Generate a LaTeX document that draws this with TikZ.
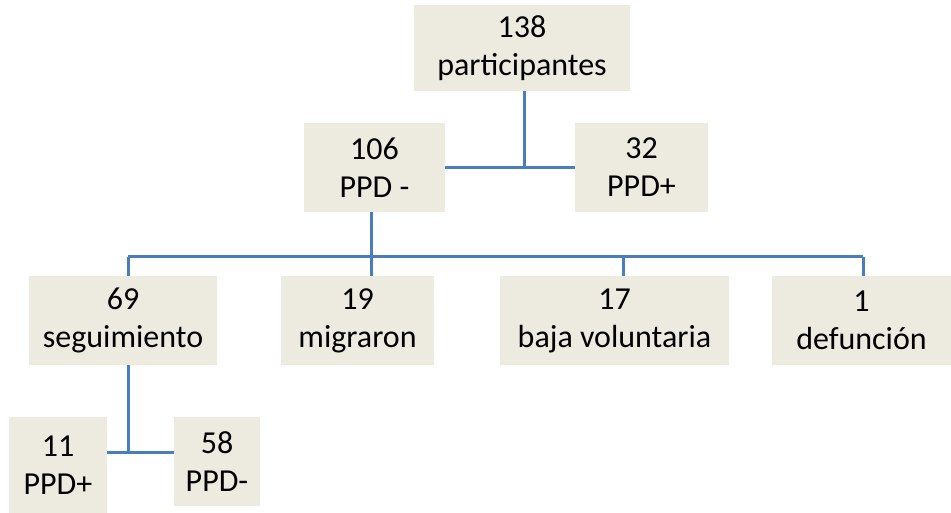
\documentclass[tikz,border=0pt]{standalone}
\usepackage{fontspec}
\setmainfont{Carlito}
\definecolor{boxfill}{HTML}{EDEBE0}
\definecolor{linkc}{HTML}{4A7EBB}
\begin{document}
\begin{tikzpicture}[x=1pt,y=-1pt,
  box/.style={fill=boxfill, draw=none, inner sep=0pt, align=center,
    font=\fontsize{32}{38}\selectfont},
  link/.style={draw=linkc, line width=3pt}]
\useasboundingbox (0,0) rectangle (951,513);
% boxes
\node[box, minimum width=216, minimum height=86] (p138) at (522,48) {138\\participantes};
\node[box, minimum width=141, minimum height=89] (n106) at (374.5,167.5) {106\\PPD -};
\node[box, minimum width=133, minimum height=89] (n32) at (641.5,167.5) {32\\PPD+};
\node[box, minimum width=188, minimum height=89] (n69) at (123,320.5) {69\\seguimiento};
\node[box, minimum width=153, minimum height=89] (n19) at (357.5,320.5) {19\\migraron};
\node[box, minimum width=229, minimum height=89] (n17) at (614.5,320.5) {17\\baja voluntaria};
\node[box, minimum width=179, minimum height=89] (n1) at (861.5,320.5) {1\\defunción};
\node[box, minimum width=98, minimum height=96] (n11) at (58,465) {11\\PPD+};
\node[box, minimum width=86, minimum height=89] (n58) at (217,461.5) {58\\PPD-};
% junction coordinates
\coordinate (j138) at (524,168);
\coordinate (d69) at (128,257);
\coordinate (d106) at (371,257);
\coordinate (d17) at (623,257);
\coordinate (d1) at (863,257);
\coordinate (j69) at (128,452);
% connectors
\draw[link] (j138 |- p138.south) -- (j138);
\draw[link] (n106.east |- j138) -- (n32.west |- j138);
\draw[link] (d106 |- n106.south) -- (d106);
\draw[link] (d69) -- (d1);
\draw[link] (d69) -- (d69 |- n69.north);
\draw[link] (d106) -- (d106 |- n19.north);
\draw[link] (d17) -- (d17 |- n17.north);
\draw[link] (d1) -- (d1 |- n1.north);
\draw[link] (j69 |- n69.south) -- (j69);
\draw[link] (n11.east |- j69) -- (n58.west |- j69);
\end{tikzpicture}
\end{document}
